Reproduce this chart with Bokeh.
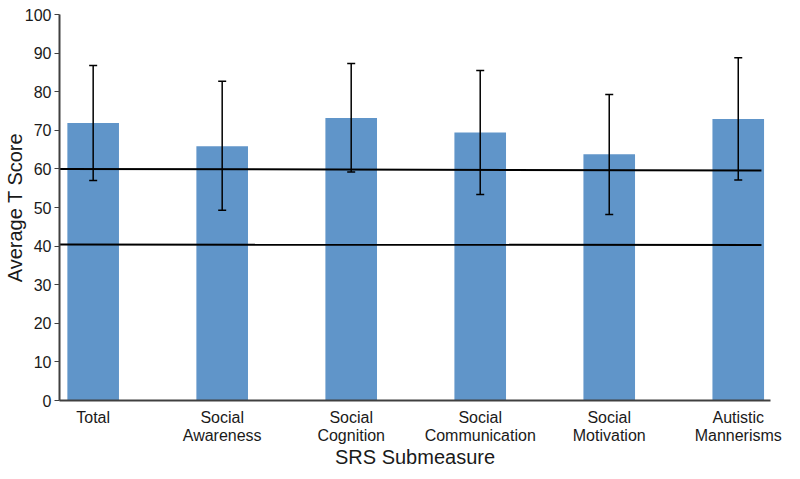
from bokeh.plotting import figure
from bokeh.models import ColumnDataSource, Whisker, TeeHead, FixedTicker, Range1d
from bokeh.embed import file_html
from bokeh.resources import INLINE

categories = ["Total", "Social\nAwareness", "Social\nCognition", "Social\nCommunication", "Social\nMotivation", "Autistic\nMannerisms"]
means = [71.9, 65.9, 73.2, 69.4, 63.8, 72.9]
upper = [86.8, 82.7, 87.3, 85.5, 79.3, 88.8]
lower = [57.0, 49.3, 59.2, 53.4, 48.2, 57.1]

# two reference lines (slightly sloped in the original)
ref_x = [-0.26, 5.18]
ref_hi = [60.0, 59.6]
ref_lo = [40.4, 40.3]

FONT = "Liberation Sans"

xs = list(range(len(categories)))
src = ColumnDataSource(dict(x=xs, top=means, upper=upper, lower=lower))

p = figure(width=784, height=471, output_backend="svg", toolbar_location=None,
           x_range=Range1d(-0.261, 5.25), y_range=Range1d(0, 100),
           min_border_left=0, min_border_right=14, min_border_top=14, min_border_bottom=0)

p.vbar(x="x", top="top", width=0.4, bottom=0, source=src, fill_color="#6095c9", line_color=None)

w = Whisker(base="x", upper="upper", lower="lower", source=src,
            line_color="black", line_width=1.5, level="overlay",
            upper_head=TeeHead(size=8, line_color="black", line_width=1.5),
            lower_head=TeeHead(size=8, line_color="black", line_width=1.5))
p.add_layout(w)

p.line(ref_x, ref_hi, line_color="black", line_width=2)
p.line(ref_x, ref_lo, line_color="black", line_width=2)

p.grid.visible = False
p.outline_line_color = None

p.xaxis.ticker = FixedTicker(ticks=xs)
p.xaxis.major_label_overrides = {i: c for i, c in enumerate(categories)}
p.xaxis.minor_tick_line_color = None
p.xaxis.major_tick_out = 0
p.xaxis.major_tick_in = 0
p.xaxis.major_label_standoff = 8
p.xaxis.major_label_text_line_height = 1.1
p.xaxis.axis_label = "SRS Submeasure"
p.xaxis.axis_label_standoff = -1

p.yaxis.ticker = FixedTicker(ticks=list(range(0, 101, 10)))
p.yaxis.minor_tick_line_color = None
p.yaxis.major_tick_out = 5
p.yaxis.major_tick_in = 0
p.yaxis.major_label_standoff = 3
p.yaxis.axis_label = "Average T Score"
p.yaxis.axis_label_standoff = -4

for ax in (p.xaxis, p.yaxis):
    ax.axis_line_color = "#404040"
    ax.axis_line_width = 2
    ax.major_label_text_font = FONT
    ax.major_label_text_font_size = "16px"
    ax.major_label_text_color = "#1a1a1a"
    ax.axis_label_text_font = FONT
    ax.axis_label_text_font_size = "20px"
    ax.axis_label_text_font_style = "normal"
    ax.axis_label_text_color = "#1a1a1a"

p.yaxis.major_tick_line_color = "#404040"
p.xaxis.major_tick_line_color = None

open("out.html", "w").write(file_html(p, INLINE))
